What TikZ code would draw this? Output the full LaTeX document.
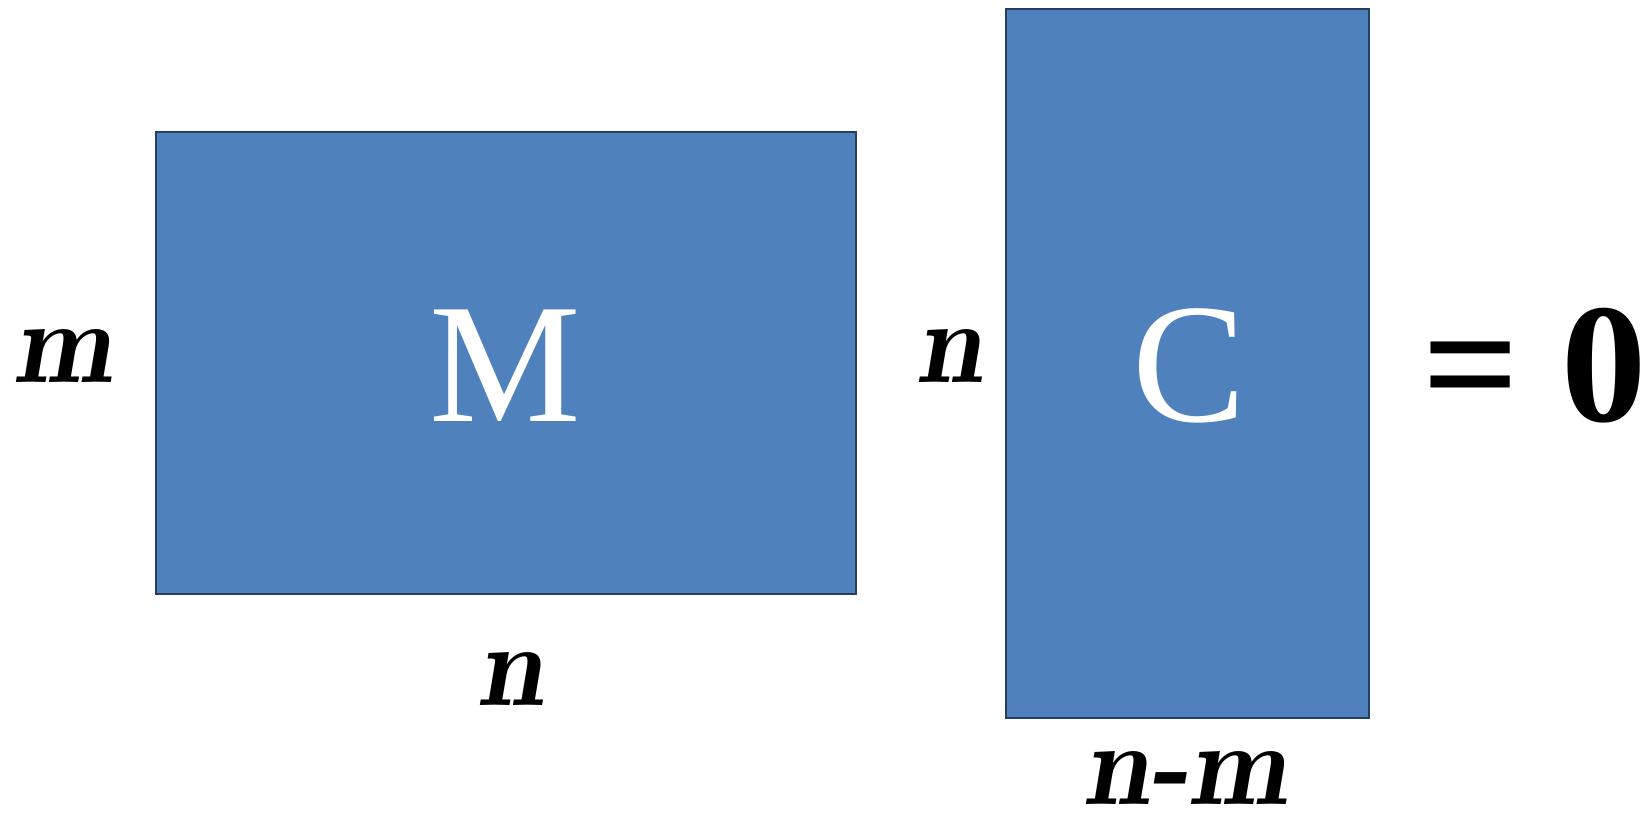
\documentclass[tikz,border=0pt]{standalone}
\usepackage{fontspec}
\setmainfont{Liberation Serif}
\definecolor{blockfill}{HTML}{4F81BD}
\definecolor{blockline}{HTML}{263F61}
\tikzset{
	block/.style={fill=blockfill,draw=blockline,line width=1.5pt},
	dimlabel/.style={anchor=base,inner sep=0pt,font=\fontfamily{lmr}\fontsize{67}{72}\selectfont\bfseries\itshape},
	bigletter/.style={anchor=base,inner sep=0pt,text=white,font=\fontsize{97}{110}\selectfont},
	bigsign/.style={anchor=base,inner sep=0pt,font=\fontsize{97}{110}\selectfont\bfseries}
}
\begin{document}
\begin{tikzpicture}[x=0.02cm,y=-0.02cm]
		\useasboundingbox (0,0) rectangle (1650,816);
		\draw[block] (156,132) rectangle (856,594);
		\draw[block] (1006,9) rectangle (1369,718);
		\node[bigletter] (mname) at (505,421) {M};
		\node[bigletter] (cname) at (1189,421) {C};
		\node[dimlabel] (mrows) at (63,382) {m};
		\node[dimlabel] (mcols) at (510,705) {n};
		\node[dimlabel] (crows) at (949,382) {n};
		\node[dimlabel] (ccols) at (1185,804) {n-m};
		\node[bigsign] (eq) at (1471,421) {=};
		\node[bigsign] (zero) at (1604,421) {0};
		\end{tikzpicture}
\end{document}
